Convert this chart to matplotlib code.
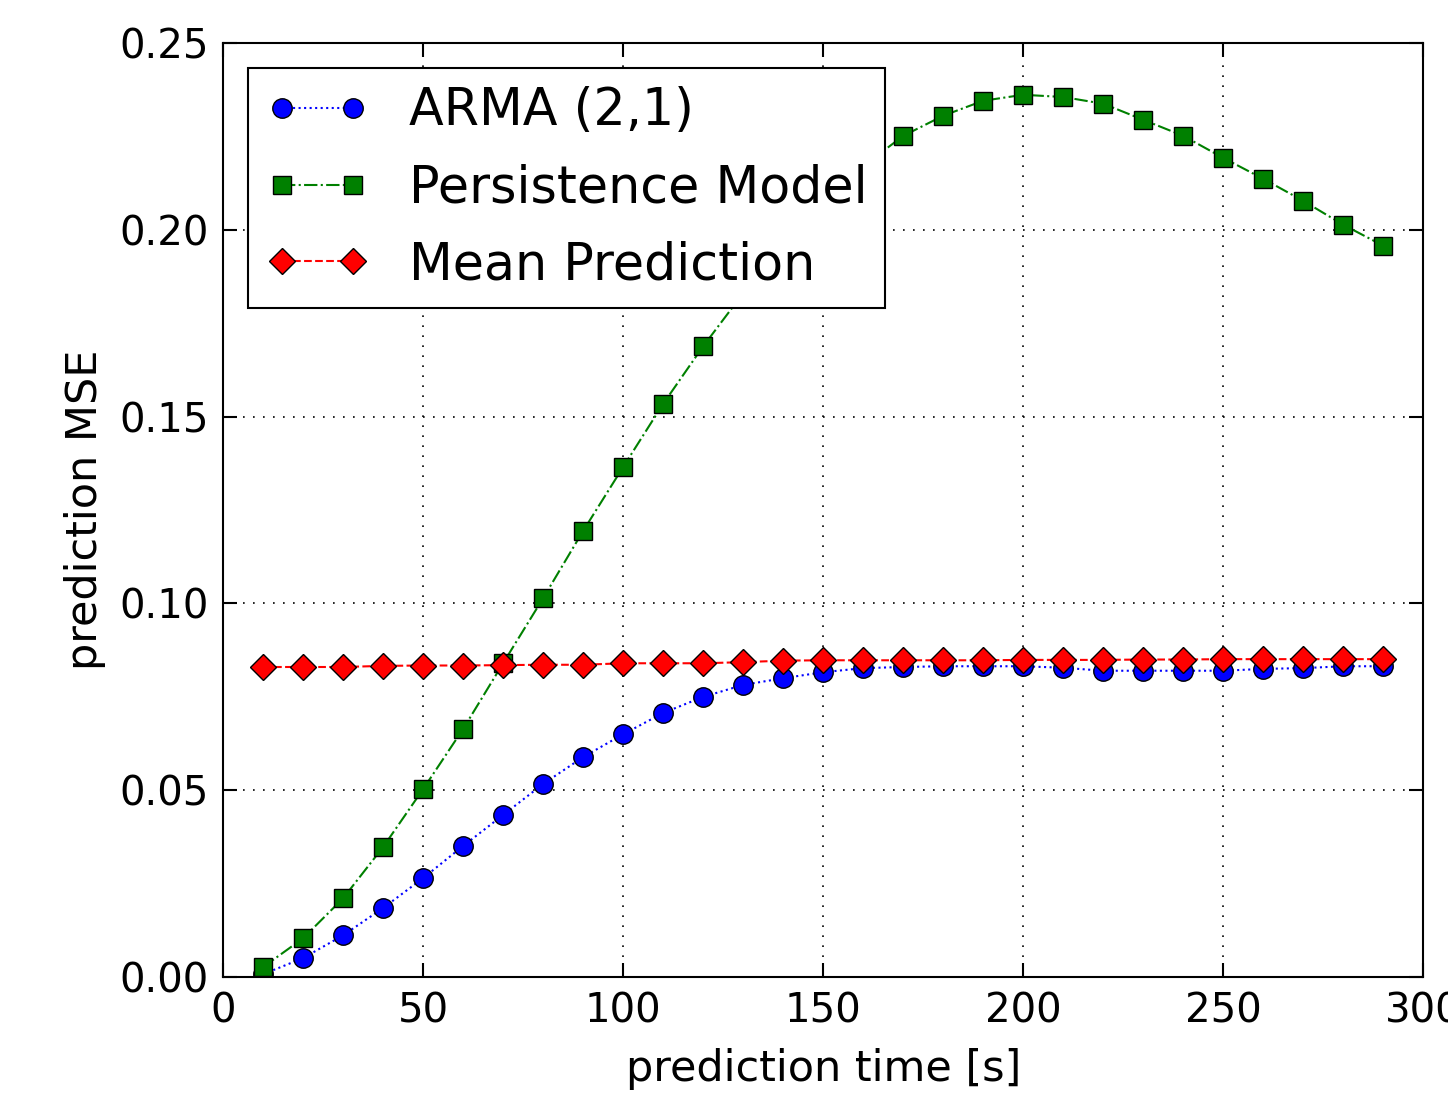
import numpy as np
import matplotlib
matplotlib.use("Agg")
import matplotlib.pyplot as plt

# prediction horizons [s]
times = np.arange(10, 300, 10)

arma_mse = [0.0008, 0.0051, 0.0112, 0.0185, 0.0265, 0.0351, 0.0434, 0.0517,
            0.0589, 0.0650, 0.0707, 0.0750, 0.0782, 0.0800, 0.0816, 0.0827,
            0.0830, 0.0832, 0.0832, 0.0832, 0.0828, 0.0820, 0.0820, 0.0820,
            0.0820, 0.0825, 0.0827, 0.0832, 0.0832]

persistence_mse = [0.0027, 0.0104, 0.0211, 0.0348, 0.0503, 0.0664, 0.0840,
                   0.1014, 0.1194, 0.1365, 0.1534, 0.1688, 0.1830, 0.1960,
                   0.2075, 0.2170, 0.2251, 0.2305, 0.2345, 0.2361, 0.2355,
                   0.2337, 0.2294, 0.2251, 0.2192, 0.2136, 0.2077, 0.2013,
                   0.1957]

mean_mse = [0.0830, 0.0830, 0.0830, 0.0833, 0.0834, 0.0834, 0.0835, 0.0836,
            0.0836, 0.0840, 0.0840, 0.0840, 0.0843, 0.0847, 0.0848, 0.0848,
            0.0848, 0.0848, 0.0848, 0.0849, 0.0849, 0.0849, 0.0850, 0.0850,
            0.0851, 0.0851, 0.0851, 0.0851, 0.0851]

plt.rcParams['font.family'] = 'DejaVu Sans'

fig = plt.figure(figsize=(14.48, 10.98), dpi=100)
ax = fig.add_axes([0.154, 0.110, 0.829, 0.851])

ms = 14
ax.plot(times, arma_mse, ':', color='blue', marker='o', markersize=ms,
        markeredgecolor='black', markeredgewidth=1, lw=1.5, label='ARMA (2,1)')
ax.plot(times, persistence_mse, '-.', color='green', marker='s', markersize=ms - 1,
        markeredgecolor='black', markeredgewidth=1, lw=1.5, label='Persistence Model')
ax.plot(times, mean_mse, '--', color='red', marker='D', markersize=ms - 1,
        markeredgecolor='black', markeredgewidth=1, lw=1.5, label='Mean Prediction')

ax.set_xlim(0, 300)
ax.set_ylim(0, 0.25)
ax.set_xticks(np.arange(0, 301, 50))
ax.set_yticks(np.arange(0, 0.251, 0.05))
ax.yaxis.set_major_formatter(matplotlib.ticker.FormatStrFormatter('%.2f'))
ax.grid(True, color='black', linestyle=(0, (1, 5)), linewidth=1.2)
ax.tick_params(labelsize=29, direction='in', length=10, width=1.5,
               top=True, right=True, pad=10)
for s in ax.spines.values():
    s.set_linewidth(1.5)

ax.set_xlabel('prediction time [s]', fontsize=31, labelpad=12)
ax.set_ylabel('prediction MSE', fontsize=31, labelpad=10)

leg = ax.legend(loc='upper left', fontsize=36.5, numpoints=2, handlelength=2.0,
                fancybox=False, framealpha=1, edgecolor='black',
                borderaxespad=0.5, handletextpad=0.8, labelspacing=0.53,
                borderpad=0.36)
leg.get_frame().set_linewidth(1.5)

fig.savefig('out.png', dpi=100)
